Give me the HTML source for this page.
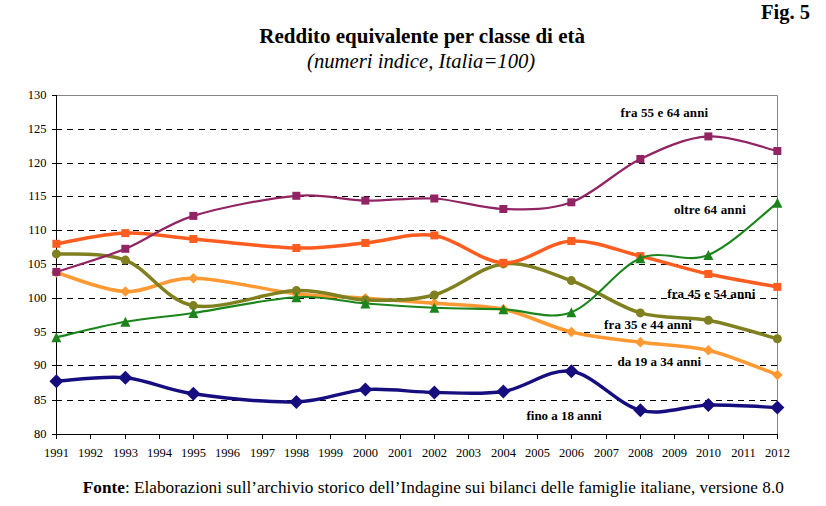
<!DOCTYPE html>
<html><head><meta charset="utf-8">
<style>
html,body{margin:0;padding:0;background:#fff;}
body{width:826px;height:506px;overflow:hidden;position:relative;}
svg{position:absolute;left:0;top:0;}
text{font-family:"Liberation Serif",serif;}
.ax{font-size:12.5px;fill:#000;}
.lb{font-size:13px;font-weight:bold;fill:#000;}
.t{position:absolute;font-family:"Liberation Serif",serif;white-space:nowrap;color:#000;line-height:1;}
</style></head><body>
<svg width="826" height="506" viewBox="0 0 826 506">
<text x="810" y="19" text-anchor="end" style="font-size:20.5px;font-weight:bold">Fig. 5</text>
<text x="259.3" y="42.5" style="font-size:21px;font-weight:bold">Reddito equivalente per classe di età</text>
<text x="307" y="68.2" style="font-size:20.7px;font-style:italic">(numeri indice, Italia=100)</text>
<line x1="56" y1="129.5" x2="777" y2="129.5" stroke="#000" stroke-width="1" stroke-dasharray="6 5"/>
<line x1="56" y1="163.5" x2="777" y2="163.5" stroke="#000" stroke-width="1" stroke-dasharray="6 5"/>
<line x1="56" y1="196.5" x2="777" y2="196.5" stroke="#000" stroke-width="1" stroke-dasharray="6 5"/>
<line x1="56" y1="230.5" x2="777" y2="230.5" stroke="#000" stroke-width="1" stroke-dasharray="6 5"/>
<line x1="56" y1="264.5" x2="777" y2="264.5" stroke="#000" stroke-width="1" stroke-dasharray="6 5"/>
<line x1="56" y1="298.5" x2="777" y2="298.5" stroke="#000" stroke-width="1" stroke-dasharray="6 5"/>
<line x1="56" y1="332.5" x2="777" y2="332.5" stroke="#000" stroke-width="1" stroke-dasharray="6 5"/>
<line x1="56" y1="365.5" x2="777" y2="365.5" stroke="#000" stroke-width="1" stroke-dasharray="6 5"/>
<line x1="56" y1="400.5" x2="777" y2="400.5" stroke="#000" stroke-width="1" stroke-dasharray="6 5"/>
<path d="M57,95.5 H777.5 V434" fill="none" stroke="#868686" stroke-width="1"/>
<path d="M56.5,95 V434.5 H778" fill="none" stroke="#000" stroke-width="1"/>
<line x1="52" y1="95.5" x2="56.5" y2="95.5" stroke="#000" stroke-width="1"/>
<line x1="52" y1="129.5" x2="56.5" y2="129.5" stroke="#000" stroke-width="1"/>
<line x1="52" y1="163.5" x2="56.5" y2="163.5" stroke="#000" stroke-width="1"/>
<line x1="52" y1="196.5" x2="56.5" y2="196.5" stroke="#000" stroke-width="1"/>
<line x1="52" y1="230.5" x2="56.5" y2="230.5" stroke="#000" stroke-width="1"/>
<line x1="52" y1="264.5" x2="56.5" y2="264.5" stroke="#000" stroke-width="1"/>
<line x1="52" y1="298.5" x2="56.5" y2="298.5" stroke="#000" stroke-width="1"/>
<line x1="52" y1="332.5" x2="56.5" y2="332.5" stroke="#000" stroke-width="1"/>
<line x1="52" y1="365.5" x2="56.5" y2="365.5" stroke="#000" stroke-width="1"/>
<line x1="52" y1="400.5" x2="56.5" y2="400.5" stroke="#000" stroke-width="1"/>
<line x1="52" y1="434.5" x2="56.5" y2="434.5" stroke="#000" stroke-width="1"/>
<line x1="56.5" y1="434" x2="56.5" y2="439" stroke="#000" stroke-width="1"/>
<line x1="90.5" y1="434" x2="90.5" y2="439" stroke="#000" stroke-width="1"/>
<line x1="125.5" y1="434" x2="125.5" y2="439" stroke="#000" stroke-width="1"/>
<line x1="159.5" y1="434" x2="159.5" y2="439" stroke="#000" stroke-width="1"/>
<line x1="193.5" y1="434" x2="193.5" y2="439" stroke="#000" stroke-width="1"/>
<line x1="227.5" y1="434" x2="227.5" y2="439" stroke="#000" stroke-width="1"/>
<line x1="262.5" y1="434" x2="262.5" y2="439" stroke="#000" stroke-width="1"/>
<line x1="296.5" y1="434" x2="296.5" y2="439" stroke="#000" stroke-width="1"/>
<line x1="330.5" y1="434" x2="330.5" y2="439" stroke="#000" stroke-width="1"/>
<line x1="365.5" y1="434" x2="365.5" y2="439" stroke="#000" stroke-width="1"/>
<line x1="400.5" y1="434" x2="400.5" y2="439" stroke="#000" stroke-width="1"/>
<line x1="434.5" y1="434" x2="434.5" y2="439" stroke="#000" stroke-width="1"/>
<line x1="468.5" y1="434" x2="468.5" y2="439" stroke="#000" stroke-width="1"/>
<line x1="503.5" y1="434" x2="503.5" y2="439" stroke="#000" stroke-width="1"/>
<line x1="537.5" y1="434" x2="537.5" y2="439" stroke="#000" stroke-width="1"/>
<line x1="571.5" y1="434" x2="571.5" y2="439" stroke="#000" stroke-width="1"/>
<line x1="606.5" y1="434" x2="606.5" y2="439" stroke="#000" stroke-width="1"/>
<line x1="640.5" y1="434" x2="640.5" y2="439" stroke="#000" stroke-width="1"/>
<line x1="674.5" y1="434" x2="674.5" y2="439" stroke="#000" stroke-width="1"/>
<line x1="708.5" y1="434" x2="708.5" y2="439" stroke="#000" stroke-width="1"/>
<line x1="743.5" y1="434" x2="743.5" y2="439" stroke="#000" stroke-width="1"/>
<line x1="777.5" y1="434" x2="777.5" y2="439" stroke="#000" stroke-width="1"/>
<text x="46.5" y="98.5" text-anchor="end" class="ax">130</text>
<text x="46.5" y="132.5" text-anchor="end" class="ax">125</text>
<text x="46.5" y="166.5" text-anchor="end" class="ax">120</text>
<text x="46.5" y="199.5" text-anchor="end" class="ax">115</text>
<text x="46.5" y="233.5" text-anchor="end" class="ax">110</text>
<text x="46.5" y="267.5" text-anchor="end" class="ax">105</text>
<text x="46.5" y="301.5" text-anchor="end" class="ax">100</text>
<text x="46.5" y="335.5" text-anchor="end" class="ax">95</text>
<text x="46.5" y="368.5" text-anchor="end" class="ax">90</text>
<text x="46.5" y="403.5" text-anchor="end" class="ax">85</text>
<text x="46.5" y="437.5" text-anchor="end" class="ax">80</text>
<text x="56.5" y="457" text-anchor="middle" class="ax">1991</text>
<text x="90.5" y="457" text-anchor="middle" class="ax">1992</text>
<text x="125.5" y="457" text-anchor="middle" class="ax">1993</text>
<text x="159.5" y="457" text-anchor="middle" class="ax">1994</text>
<text x="193.5" y="457" text-anchor="middle" class="ax">1995</text>
<text x="227.5" y="457" text-anchor="middle" class="ax">1996</text>
<text x="262.5" y="457" text-anchor="middle" class="ax">1997</text>
<text x="296.5" y="457" text-anchor="middle" class="ax">1998</text>
<text x="330.5" y="457" text-anchor="middle" class="ax">1999</text>
<text x="365.5" y="457" text-anchor="middle" class="ax">2000</text>
<text x="400.5" y="457" text-anchor="middle" class="ax">2001</text>
<text x="434.5" y="457" text-anchor="middle" class="ax">2002</text>
<text x="468.5" y="457" text-anchor="middle" class="ax">2003</text>
<text x="503.5" y="457" text-anchor="middle" class="ax">2004</text>
<text x="537.5" y="457" text-anchor="middle" class="ax">2005</text>
<text x="571.5" y="457" text-anchor="middle" class="ax">2006</text>
<text x="606.5" y="457" text-anchor="middle" class="ax">2007</text>
<text x="640.5" y="457" text-anchor="middle" class="ax">2008</text>
<text x="674.5" y="457" text-anchor="middle" class="ax">2009</text>
<text x="708.5" y="457" text-anchor="middle" class="ax">2010</text>
<text x="743.5" y="457" text-anchor="middle" class="ax">2011</text>
<text x="777.5" y="457" text-anchor="middle" class="ax">2012</text>
<rect x="613" y="355" width="90" height="11" fill="#fff"/>
<path d="M56.35,381.20 C67.85,380.62 102.52,375.60 125.35,377.70 C148.18,379.80 164.85,389.77 193.35,393.80 C221.85,397.83 267.68,402.60 296.35,401.90 C325.02,401.20 342.35,391.18 365.35,389.60 C388.35,388.02 411.35,392.08 434.35,392.40 C457.35,392.72 480.52,395.02 503.35,391.50 C526.18,387.98 548.52,368.17 571.35,371.30 C594.18,374.43 617.52,404.67 640.35,410.30 C663.18,415.93 685.52,405.57 708.35,405.10 C731.18,404.63 765.85,407.10 777.35,407.50" fill="none" stroke="#160E7E" stroke-width="3.40" stroke-linejoin="round" stroke-linecap="round"/>
<path d="M56.35,374.20 L63.35,381.20 L56.35,388.20 L49.35,381.20 Z" fill="#160E7E"/>
<path d="M125.35,370.70 L132.35,377.70 L125.35,384.70 L118.35,377.70 Z" fill="#160E7E"/>
<path d="M193.35,386.80 L200.35,393.80 L193.35,400.80 L186.35,393.80 Z" fill="#160E7E"/>
<path d="M296.35,394.90 L303.35,401.90 L296.35,408.90 L289.35,401.90 Z" fill="#160E7E"/>
<path d="M365.35,382.60 L372.35,389.60 L365.35,396.60 L358.35,389.60 Z" fill="#160E7E"/>
<path d="M434.35,385.40 L441.35,392.40 L434.35,399.40 L427.35,392.40 Z" fill="#160E7E"/>
<path d="M503.35,384.50 L510.35,391.50 L503.35,398.50 L496.35,391.50 Z" fill="#160E7E"/>
<path d="M571.35,364.30 L578.35,371.30 L571.35,378.30 L564.35,371.30 Z" fill="#160E7E"/>
<path d="M640.35,403.30 L647.35,410.30 L640.35,417.30 L633.35,410.30 Z" fill="#160E7E"/>
<path d="M708.35,398.10 L715.35,405.10 L708.35,412.10 L701.35,405.10 Z" fill="#160E7E"/>
<path d="M777.35,400.50 L784.35,407.50 L777.35,414.50 L770.35,407.50 Z" fill="#160E7E"/>
<path d="M56.35,272.50 C67.85,275.68 102.52,290.65 125.35,291.60 C148.18,292.55 164.85,277.85 193.35,278.20 C221.85,278.55 267.68,290.35 296.35,293.70 C325.02,297.05 342.35,296.72 365.35,298.30 C388.35,299.88 411.35,301.37 434.35,303.20 C457.35,305.03 480.52,304.50 503.35,309.30 C526.18,314.10 548.52,326.52 571.35,332.00 C594.18,337.48 617.52,339.15 640.35,342.20 C663.18,345.25 685.52,344.85 708.35,350.30 C731.18,355.75 765.85,370.80 777.35,374.90" fill="none" stroke="#FF9933" stroke-width="3.50" stroke-linejoin="round" stroke-linecap="round"/>
<path d="M56.35,267.25 L61.60,272.50 L56.35,277.75 L51.10,272.50 Z" fill="#FF9933"/>
<path d="M125.35,286.35 L130.60,291.60 L125.35,296.85 L120.10,291.60 Z" fill="#FF9933"/>
<path d="M193.35,272.95 L198.60,278.20 L193.35,283.45 L188.10,278.20 Z" fill="#FF9933"/>
<path d="M296.35,288.45 L301.60,293.70 L296.35,298.95 L291.10,293.70 Z" fill="#FF9933"/>
<path d="M365.35,293.05 L370.60,298.30 L365.35,303.55 L360.10,298.30 Z" fill="#FF9933"/>
<path d="M434.35,297.95 L439.60,303.20 L434.35,308.45 L429.10,303.20 Z" fill="#FF9933"/>
<path d="M503.35,304.05 L508.60,309.30 L503.35,314.55 L498.10,309.30 Z" fill="#FF9933"/>
<path d="M571.35,326.75 L576.60,332.00 L571.35,337.25 L566.10,332.00 Z" fill="#FF9933"/>
<path d="M640.35,336.95 L645.60,342.20 L640.35,347.45 L635.10,342.20 Z" fill="#FF9933"/>
<path d="M708.35,345.05 L713.60,350.30 L708.35,355.55 L703.10,350.30 Z" fill="#FF9933"/>
<path d="M777.35,369.65 L782.60,374.90 L777.35,380.15 L772.10,374.90 Z" fill="#FF9933"/>
<path d="M56.35,253.90 C67.85,254.93 102.52,251.48 125.35,260.10 C148.18,268.72 164.85,300.52 193.35,305.60 C221.85,310.68 267.68,291.53 296.35,290.60 C325.02,289.67 342.35,299.27 365.35,300.00 C388.35,300.73 411.35,301.02 434.35,295.00 C457.35,288.98 480.52,266.30 503.35,263.90 C526.18,261.50 548.52,272.43 571.35,280.60 C594.18,288.77 617.52,306.28 640.35,312.90 C663.18,319.52 685.52,315.98 708.35,320.30 C731.18,324.62 765.85,335.72 777.35,338.80" fill="none" stroke="#808020" stroke-width="3.50" stroke-linejoin="round" stroke-linecap="round"/>
<circle cx="56.35" cy="253.90" r="4.50" fill="#808020"/>
<circle cx="125.35" cy="260.10" r="4.50" fill="#808020"/>
<circle cx="193.35" cy="305.60" r="4.50" fill="#808020"/>
<circle cx="296.35" cy="290.60" r="4.50" fill="#808020"/>
<circle cx="365.35" cy="300.00" r="4.50" fill="#808020"/>
<circle cx="434.35" cy="295.00" r="4.50" fill="#808020"/>
<circle cx="503.35" cy="263.90" r="4.50" fill="#808020"/>
<circle cx="571.35" cy="280.60" r="4.50" fill="#808020"/>
<circle cx="640.35" cy="312.90" r="4.50" fill="#808020"/>
<circle cx="708.35" cy="320.30" r="4.50" fill="#808020"/>
<circle cx="777.35" cy="338.80" r="4.50" fill="#808020"/>
<path d="M56.35,243.80 C67.85,242.02 102.52,233.90 125.35,233.10 C148.18,232.30 164.85,236.52 193.35,239.00 C221.85,241.48 267.68,247.33 296.35,248.00 C325.02,248.67 342.35,245.10 365.35,243.00 C388.35,240.90 411.35,232.10 434.35,235.40 C457.35,238.70 480.52,261.87 503.35,262.80 C526.18,263.73 548.52,242.12 571.35,241.00 C594.18,239.88 617.52,250.60 640.35,256.10 C663.18,261.60 685.52,268.87 708.35,274.00 C731.18,279.13 765.85,284.75 777.35,286.90" fill="none" stroke="#FF5C1F" stroke-width="3.50" stroke-linejoin="round" stroke-linecap="round"/>
<rect x="52.35" y="239.80" width="8.00" height="8.00" fill="#FF5C1F"/>
<rect x="121.35" y="229.10" width="8.00" height="8.00" fill="#FF5C1F"/>
<rect x="189.35" y="235.00" width="8.00" height="8.00" fill="#FF5C1F"/>
<rect x="292.35" y="244.00" width="8.00" height="8.00" fill="#FF5C1F"/>
<rect x="361.35" y="239.00" width="8.00" height="8.00" fill="#FF5C1F"/>
<rect x="430.35" y="231.40" width="8.00" height="8.00" fill="#FF5C1F"/>
<rect x="499.35" y="258.80" width="8.00" height="8.00" fill="#FF5C1F"/>
<rect x="567.35" y="237.00" width="8.00" height="8.00" fill="#FF5C1F"/>
<rect x="636.35" y="252.10" width="8.00" height="8.00" fill="#FF5C1F"/>
<rect x="704.35" y="270.00" width="8.00" height="8.00" fill="#FF5C1F"/>
<rect x="773.35" y="282.90" width="8.00" height="8.00" fill="#FF5C1F"/>
<path d="M56.35,271.90 C67.85,268.05 102.52,258.13 125.35,248.80 C148.18,239.47 164.85,224.73 193.35,215.90 C221.85,207.07 267.68,198.35 296.35,195.80 C325.02,193.25 342.35,200.15 365.35,200.60 C388.35,201.05 411.35,197.10 434.35,198.50 C457.35,199.90 480.52,208.37 503.35,209.00 C526.18,209.63 548.52,210.63 571.35,202.30 C594.18,193.97 617.52,169.98 640.35,159.00 C663.18,148.02 685.52,137.73 708.35,136.40 C731.18,135.07 765.85,148.57 777.35,151.00" fill="none" stroke="#922464" stroke-width="2.25" stroke-linejoin="round" stroke-linecap="round"/>
<rect x="52.35" y="267.90" width="8.00" height="8.00" fill="#922464"/>
<rect x="121.35" y="244.80" width="8.00" height="8.00" fill="#922464"/>
<rect x="189.35" y="211.90" width="8.00" height="8.00" fill="#922464"/>
<rect x="292.35" y="191.80" width="8.00" height="8.00" fill="#922464"/>
<rect x="361.35" y="196.60" width="8.00" height="8.00" fill="#922464"/>
<rect x="430.35" y="194.50" width="8.00" height="8.00" fill="#922464"/>
<rect x="499.35" y="205.00" width="8.00" height="8.00" fill="#922464"/>
<rect x="567.35" y="198.30" width="8.00" height="8.00" fill="#922464"/>
<rect x="636.35" y="155.00" width="8.00" height="8.00" fill="#922464"/>
<rect x="704.35" y="132.40" width="8.00" height="8.00" fill="#922464"/>
<rect x="773.35" y="147.00" width="8.00" height="8.00" fill="#922464"/>
<path d="M56.35,337.30 C67.85,334.72 102.52,325.85 125.35,321.80 C148.18,317.75 164.85,317.10 193.35,313.00 C221.85,308.90 267.68,298.78 296.35,297.20 C325.02,295.62 342.35,301.75 365.35,303.50 C388.35,305.25 411.35,306.73 434.35,307.70 C457.35,308.67 480.52,308.55 503.35,309.30 C526.18,310.05 548.52,320.70 571.35,312.20 C594.18,303.70 617.52,267.83 640.35,258.30 C663.18,248.77 685.52,264.25 708.35,255.00 C731.18,245.75 765.85,211.50 777.35,202.80" fill="none" stroke="#1B851B" stroke-width="2.10" stroke-linejoin="round" stroke-linecap="round"/>
<path d="M56.35,332.30 L61.35,342.30 L51.35,342.30 Z" fill="#1B851B"/>
<path d="M125.35,316.80 L130.35,326.80 L120.35,326.80 Z" fill="#1B851B"/>
<path d="M193.35,308.00 L198.35,318.00 L188.35,318.00 Z" fill="#1B851B"/>
<path d="M296.35,292.20 L301.35,302.20 L291.35,302.20 Z" fill="#1B851B"/>
<path d="M365.35,298.50 L370.35,308.50 L360.35,308.50 Z" fill="#1B851B"/>
<path d="M434.35,302.70 L439.35,312.70 L429.35,312.70 Z" fill="#1B851B"/>
<path d="M503.35,304.30 L508.35,314.30 L498.35,314.30 Z" fill="#1B851B"/>
<path d="M571.35,307.20 L576.35,317.20 L566.35,317.20 Z" fill="#1B851B"/>
<path d="M640.35,253.30 L645.35,263.30 L635.35,263.30 Z" fill="#1B851B"/>
<path d="M708.35,250.00 L713.35,260.00 L703.35,260.00 Z" fill="#1B851B"/>
<path d="M777.35,197.80 L782.35,207.80 L772.35,207.80 Z" fill="#1B851B"/>
<text x="620.6" y="116.6" class="lb" textLength="87.5" lengthAdjust="spacing">fra 55 e 64 anni</text>
<text x="673.9" y="213.8" class="lb" textLength="71.9" lengthAdjust="spacing">oltre 64 anni</text>
<text x="667.2" y="298.2" class="lb" textLength="88.1" lengthAdjust="spacing">fra 45 e 54 anni</text>
<text x="604.0" y="329.2" class="lb" textLength="87.9" lengthAdjust="spacing">fra 35 e 44 anni</text>
<text x="617.4" y="365.6" class="lb" textLength="83.7" lengthAdjust="spacing">da 19 a 34 anni</text>
<text x="526.5" y="420.0" class="lb" textLength="75.1" lengthAdjust="spacing">fino a 18 anni</text>
<text x="82.8" y="493" style="font-size:17.2px" textLength="701" lengthAdjust="spacing"><tspan font-weight="bold">Fonte</tspan>: Elaborazioni sull’archivio storico dell’Indagine sui bilanci delle famiglie italiane, versione 8.0</text>
</svg>
</body></html>
